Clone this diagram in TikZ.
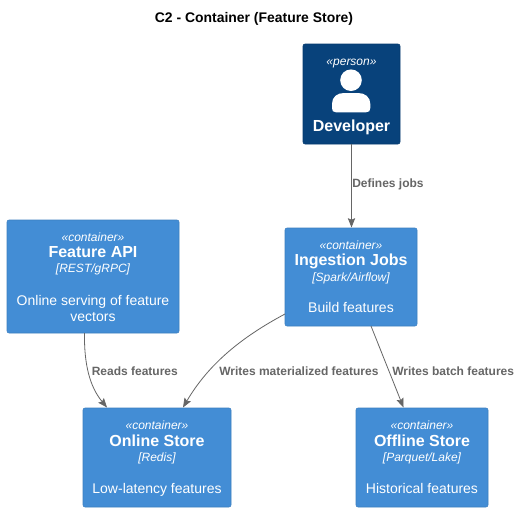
\documentclass[tikz,border=0pt]{standalone}
\usepackage{fontspec}
\setmainfont{Liberation Sans}
\usetikzlibrary{arrows.meta}
\definecolor{cont}{HTML}{438DD5}
\definecolor{contl}{HTML}{3C7FC0}
\definecolor{pers}{HTML}{08427B}
\definecolor{persl}{HTML}{073B6F}
\definecolor{lnk}{HTML}{666666}
\tikzset{x=0.75pt,y=-0.75pt,
  box/.style={draw=contl,fill=cont,rounded corners=1.5pt,line width=0.4pt},
  tx/.style={text=white,inner sep=0pt,anchor=base},
  stereo/.style={tx,font=\fontsize{9}{10}\selectfont\itshape},
  ttl/.style={tx,font=\fontsize{12}{14}\selectfont\bfseries},
  tech/.style={tx,font=\fontsize{9}{10}\selectfont\itshape},
  dsc/.style={tx,font=\fontsize{10.5}{12}\selectfont},
  lab/.style={text=lnk,inner sep=0pt,anchor=base west,font=\fontsize{9}{10}\selectfont\bfseries},
  rel/.style={draw=lnk,line width=0.6pt,-{Stealth[length=7pt,width=5.5pt,inset=1.2pt]}}}
\begin{document}
\begin{tikzpicture}
\useasboundingbox (0,0) rectangle (521,511);
\fill[white] (0,0) rectangle (521,511);
\node[inner sep=0pt,anchor=base,font=\fontsize{10.45}{12}\selectfont\bfseries] (title) at (254,22.5) {C2 - Container (Feature Store)};
\draw[draw=persl,fill=pers,rounded corners=1.5pt,line width=0.4pt] (303,44) rectangle (400,144);
\node[stereo] (d1) at (351.5,65.5) {«person»};
\fill[white] (351,80.2) circle (10.8);
\fill[white] (332,108) -- (332,104) .. controls (332,97) and (337,93) .. (344,93) -- (358,93) .. controls (365,93) and (370.3,97) .. (370.3,104) -- (370.3,108) .. controls (370.3,111) and (369,112.3) .. (366,112.3) -- (336,112.3) .. controls (333,112.3) and (332,111) .. (332,108) -- cycle;
\node[ttl] (d2) at (351.5,131.5) {Developer};
\draw[box] (285,228) rectangle (417,326);
\node[stereo] (i1) at (351,249.5) {«container»};
\node[ttl] (i2) at (351,265.5) {Ingestion Jobs};
\node[tech] (i3) at (351,281.5) {[Spark/Airflow]};
\node[dsc] (i4) at (351,312.5) {Build features};
\draw[box] (7,220) rectangle (179,333);
\node[stereo] (a1) at (93,241.5) {«container»};
\node[ttl] (a2) at (93,257.5) {Feature API};
\node[tech] (a3) at (93,272.5) {[REST/gRPC]};
\node[dsc] (a4) at (93,305) {Online serving of feature};
\node[dsc] (a5) at (93,321) {vectors};
\draw[box] (83,408) rectangle (231,507);
\node[stereo] (o1) at (157,429.5) {«container»};
\node[ttl] (o2) at (157,446.5) {Online Store};
\node[tech] (o3) at (157,461.5) {[Redis]};
\node[dsc] (o4) at (157,493.5) {Low-latency features};
\draw[box] (356,408) rectangle (488,507);
\node[stereo] (f1) at (422,429.5) {«container»};
\node[ttl] (f2) at (422,446.5) {Offline Store};
\node[tech] (f3) at (422,461.5) {[Parquet/Lake]};
\node[dsc] (f4) at (422,493.5) {Historical features};
\coordinate (e1a) at (351.5,144);\coordinate (e1b) at (351.5,227.5);
\draw[rel] (e1a) -- (e1b);
\coordinate (e2a) at (84.5,333);\coordinate (e2b) at (107,407.5);
\draw[rel] (e2a) .. controls (84,365) and (90,387) .. (e2b);
\coordinate (e3a) at (285,314);\coordinate (e3b) at (183,407.5);
\draw[rel] (e3a) .. controls (240,338) and (208,365) .. (e3b);
\coordinate (e4a) at (371,326);\coordinate (e4b) at (403.5,407.5);
\draw[rel] (e4a) -- (e4b);
\node[lab] (l1) at (352,187) {Defines jobs};
\node[lab] (l2) at (91.5,375.3) {Reads features};
\node[lab] (l3) at (219,375.3) {Writes materialized features};
\node[lab] (l4) at (392,375.3) {Writes batch features};
\end{tikzpicture}
\end{document}
